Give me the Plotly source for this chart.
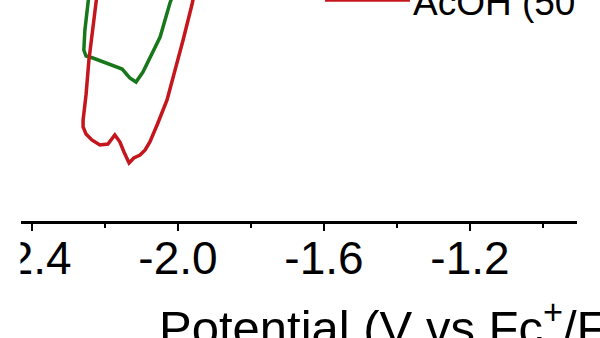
import plotly.graph_objects as go

# Potential (V vs Fc+/Fc) and current (arbitrary units, reduction downward)
green_potential = [-2.014, -2.022, -2.049, -2.077, -2.096, -2.115, -2.132, -2.153,
                   -2.195, -2.233, -2.252, -2.258, -2.255, -2.249, -2.244]
green_current = [0.5, -0.3, -3.7, -5.8, -7.2, -8.2, -7.8, -6.9,
                 -6.3, -5.8, -5.6, -5.0, -3.0, -1.0, 0.5]

red_potential = [-1.956, -1.962, -1.986, -2.008, -2.030, -2.055, -2.077, -2.090,
                 -2.104, -2.121, -2.134, -2.148, -2.159, -2.173, -2.192, -2.214,
                 -2.236, -2.252, -2.260, -2.260, -2.252, -2.244, -2.233, -2.222]
red_current = [0.5, -0.5, -4.0, -7.0, -10.0, -12.3, -14.2, -15.0,
               -15.5, -15.8, -16.3, -15.2, -14.2, -13.5, -14.4, -14.5,
               -14.0, -13.4, -12.7, -12.0, -9.5, -6.0, -2.5, 0.5]

tick_values = [-2.4, -2.0, -1.6, -1.2]
tick_labels = ["-2.4", "-2.0", "-1.6", "-1.2"]
legend_label = "AcOH (50"
x_title = "Potential (V vs Fc<sup>+</sup>/Fc)"

FONT = "Liberation Sans, Arial, sans-serif"
GREEN = "#17771a"
RED = "#c4161c"

W, H = 600, 338
L, R, T, B = 21, 23, 0, 117
PW, PH = W - L - R, H - T - B

def px2paper_x(px):
    return (px - L) / PW

def px2paper_y(py):
    return (H - B - py) / PH

fig = go.Figure()
fig.add_trace(go.Scatter(x=green_potential, y=green_current, mode="lines",
                         line=dict(color=GREEN, width=3.5), showlegend=False))
fig.add_trace(go.Scatter(x=red_potential, y=red_current, mode="lines",
                         line=dict(color=RED, width=3.5), name=legend_label,
                         showlegend=False))

fig.update_layout(
    width=W, height=H,
    margin=dict(l=L, r=R, t=T, b=B, autoexpand=False),
    paper_bgcolor="white", plot_bgcolor="white",
    font=dict(family=FONT, color="black"),
    xaxis=dict(range=[-2.4301, -0.9068], showgrid=False, zeroline=False,
               showline=True, linecolor="black", linewidth=2.5,
               ticks="outside", ticklen=7, tickwidth=2, tickcolor="black",
               tickvals=tick_values, ticktext=tick_labels,
               ticklabeloverflow="allow", ticklabelstandoff=-12,
               tickfont=dict(size=46, family=FONT, color="black"),
               minor=dict(dtick=0.2, tick0=-2.4, ticks="outside", ticklen=4,
                          tickwidth=2, tickcolor="black")),
    yaxis=dict(range=[-22.1, 0], visible=False, showgrid=False, zeroline=False),
    shapes=[
        # legend sample line
        dict(type="line", xref="paper", yref="paper",
             x0=px2paper_x(325), x1=px2paper_x(410),
             y0=px2paper_y(0), y1=px2paper_y(0),
             line=dict(color=RED, width=3.5)),
        # left crop edge
        dict(type="rect", xref="paper", yref="paper", layer="above",
             x0=px2paper_x(-10), x1=px2paper_x(20.5),
             y0=px2paper_y(345), y1=px2paper_y(226),
             fillcolor="white", line=dict(width=0)),
    ],
    annotations=[
        dict(text=legend_label, xref="paper", yref="paper",
             x=px2paper_x(411), y=px2paper_y(2.5), xanchor="left", yanchor="middle",
             showarrow=False, font=dict(size=37, family=FONT, color="black")),
        dict(text=x_title, xref="paper", yref="paper",
             x=px2paper_x(157), y=px2paper_y(324), xanchor="left", yanchor="middle",
             showarrow=False, font=dict(size=49, family=FONT, color="black")),
    ],
)

fig.write_html("out.html")
